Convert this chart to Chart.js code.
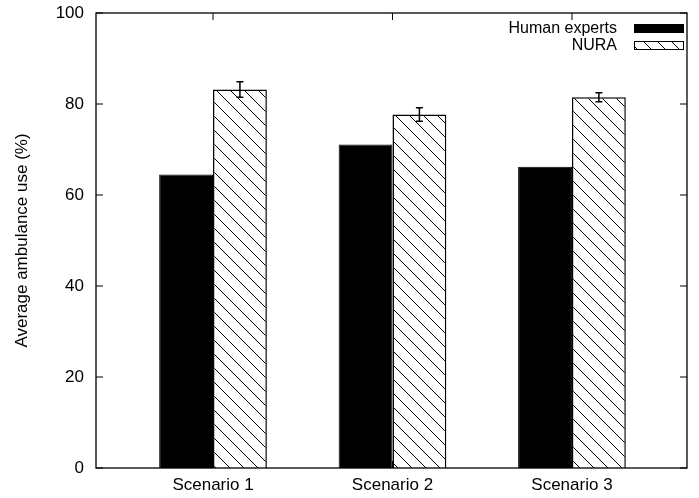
<!DOCTYPE html>
<html>
<head>
<meta charset="utf-8">
<script src="https://cdn.jsdelivr.net/npm/chart.js@4.4.1/dist/chart.umd.min.js"></script>
<style>
  html, body { margin: 0; padding: 0; background: #fff; }
</style>
</head>
<body>
<canvas id="chart" width="699" height="498"></canvas>
<script>
// data
const scenarios = ["Scenario 1", "Scenario 2", "Scenario 3"];
const humanExperts = [64.5, 71.1, 66.2];
const nura = [83.2, 77.7, 81.5];
const nuraErr = [1.7, 1.5, 1.0];
const yTicks = [0, 20, 40, 60, 80, 100];

const FONT = "'Liberation Sans', Arial, Helvetica, sans-serif";
Chart.defaults.font.family = FONT;
Chart.defaults.font.size = 17;
Chart.defaults.color = "#000";

const canvas = document.getElementById("chart");
const ctx = canvas.getContext("2d");

// diagonal hatch like gnuplot's pattern fill
function makeHatch() {
  const c = document.createElement("canvas");
  c.width = 14; c.height = 14;
  const g = c.getContext("2d");
  g.fillStyle = "#fff";
  g.fillRect(0, 0, 14, 14);
  g.strokeStyle = "#000";
  g.lineWidth = 1;
  g.beginPath();
  g.moveTo(-1, -1); g.lineTo(15, 15);
  g.moveTo(-1, 13); g.lineTo(1, 15);
  g.moveTo(13, -1); g.lineTo(15, 1);
  g.stroke();
  return ctx.createPattern(c, "repeat");
}
const hatch = makeHatch();

/* frame + inward ticks (gnuplot style) */
const framePlugin = {
  id: "frame",
  beforeDatasetsDraw(chart) {
    const { ctx, chartArea: a, scales } = chart;
    ctx.save();
    ctx.strokeStyle = "#000";
    ctx.lineWidth = 1;
    ctx.beginPath();
    scales.y.ticks.forEach(t => {
      const y = scales.y.getPixelForValue(t.value);
      ctx.moveTo(a.left, y); ctx.lineTo(a.left + 7, y);
      ctx.moveTo(a.right, y); ctx.lineTo(a.right - 7, y);
    });
    scales.x.ticks.forEach(t => {
      const x = scales.x.getPixelForValue(t.value);
      ctx.moveTo(x, a.top); ctx.lineTo(x, a.top + 7);
      ctx.moveTo(x, a.bottom); ctx.lineTo(x, a.bottom - 7);
    });
    ctx.stroke();
    ctx.restore();
  },
  afterDatasetsDraw(chart) {
    const { ctx, chartArea: a } = chart;
    ctx.save();
    ctx.strokeStyle = "#000";
    ctx.lineWidth = 1.3;
    ctx.strokeRect(a.left, a.top, a.right - a.left, a.bottom - a.top);
    ctx.restore();
  }
};

/* error bars on the NURA series */
const errorBarPlugin = {
  id: "errorBars",
  afterDatasetsDraw(chart) {
    const { ctx, scales } = chart;
    const meta = chart.getDatasetMeta(1);
    ctx.save();
    ctx.strokeStyle = "#000";
    ctx.lineWidth = 1.5;
    ctx.beginPath();
    meta.data.forEach((bar, i) => {
      const top = scales.y.getPixelForValue(nura[i] + nuraErr[i]);
      const bot = scales.y.getPixelForValue(nura[i] - nuraErr[i]);
      ctx.moveTo(bar.x, top); ctx.lineTo(bar.x, bot);
      ctx.moveTo(bar.x - 3.5, top); ctx.lineTo(bar.x + 3.5, top);
      ctx.moveTo(bar.x - 3.5, bot); ctx.lineTo(bar.x + 3.5, bot);
    });
    ctx.stroke();
    ctx.restore();
  }
};

/* legend: text on the left, sample box on the right */
const legendPlugin = {
  id: "keyBox",
  afterDraw(chart) {
    const { ctx, chartArea: a } = chart;
    ctx.save();
    ctx.font = "16px " + FONT;
    ctx.textAlign = "right";
    ctx.textBaseline = "middle";
    ctx.fillStyle = "#000";
    chart.data.datasets.forEach((ds, i) => {
      const cy = a.top + 15.5 + i * 17;
      ctx.fillText(ds.label, a.right - 70, cy);
      const bx = a.right - 53, bw = 50, bh = 9;
      ctx.fillStyle = ds.backgroundColor;
      ctx.fillRect(bx, cy - bh / 2, bw, bh);
      ctx.strokeStyle = "#000";
      ctx.lineWidth = 1;
      ctx.strokeRect(bx + 0.5, cy - bh / 2 + 0.5, bw - 1, bh - 1);
      ctx.fillStyle = "#000";
    });
    ctx.restore();
  }
};

new Chart(canvas, {
  type: "bar",
  data: {
    datasets: [
      {
        label: "Human experts",
        data: humanExperts.map((v, i) => ({ x: i, y: v })),
        backgroundColor: "#000",
        borderColor: "#000",
        borderWidth: 1
      },
      {
        label: "NURA",
        data: nura.map((v, i) => ({ x: i, y: v })),
        backgroundColor: hatch,
        borderColor: "#000",
        borderWidth: 1.5
      }
    ]
  },
  options: {
    responsive: false,
    animation: false,
    devicePixelRatio: 1,
    categoryPercentage: 0.6,
    barPercentage: 1.0,
    layout: { padding: { top: 13, right: 12, left: 0, bottom: 0 } },
    plugins: {
      legend: { display: false },
      tooltip: { enabled: false }
    },
    scales: {
      x: {
        type: "linear",
        min: -0.652,
        max: 2.641,
        offset: false,
        grid: { display: false, drawTicks: false },
        border: { display: false },
        afterBuildTicks: s => { s.ticks = scenarios.map((_, i) => ({ value: i })); },
        afterFit: s => { s.height = 30; s.paddingLeft = 0; s.paddingRight = 0; },
        ticks: {
          autoSkip: false,
          maxRotation: 0,
          padding: 7,
          callback: v => scenarios[v]
        }
      },
      y: {
        min: 0,
        max: 100,
        grid: { display: false, drawTicks: false },
        border: { display: false },
        afterBuildTicks: s => { s.ticks = yTicks.map(v => ({ value: v })); },
        afterFit: s => { s.width = 96; s.paddingTop = 0; s.paddingBottom = 0; },
        ticks: { padding: 12 },
        title: {
          display: true,
          text: "Average ambulance use (%)",
          padding: { top: 12, bottom: 0 }
        }
      }
    }
  },
  plugins: [framePlugin, errorBarPlugin, legendPlugin]
});
</script>
</body>
</html>
